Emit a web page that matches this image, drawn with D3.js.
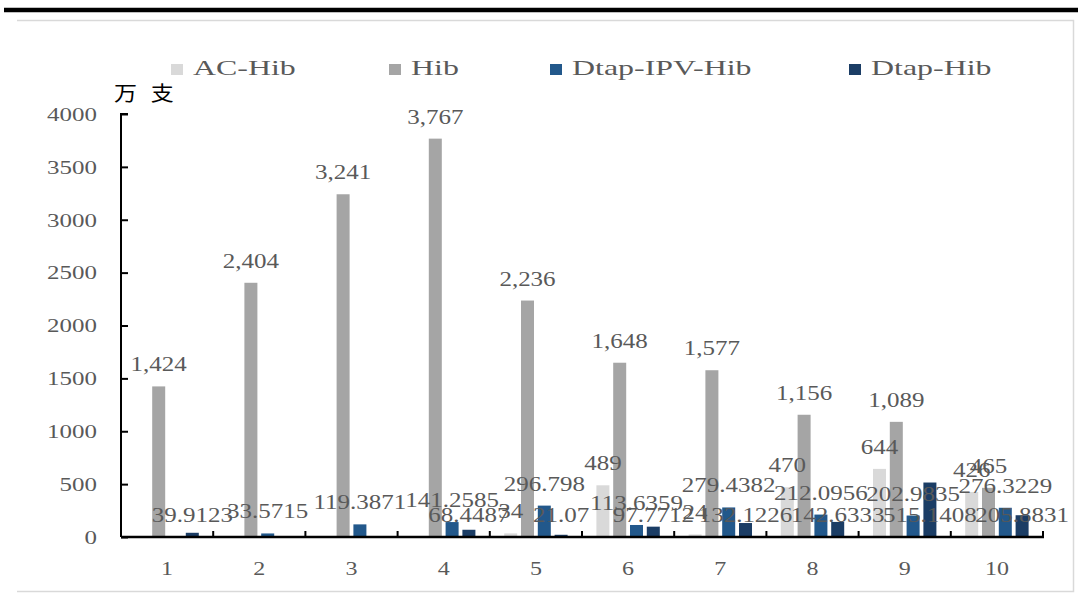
<!DOCTYPE html>
<html>
<head>
<meta charset="utf-8">
<script src="https://cdn.jsdelivr.net/npm/d3@7"></script>
<style>
  html, body { margin: 0; padding: 0; background: #fff; }
  svg { display: block; }
</style>
</head>
<body>
<svg id="chart" width="1078" height="597"></svg>
<script>
// Categories along the x axis
const categories = ["1", "2", "3", "4", "5", "6", "7", "8", "9", "10"];

// Series values (万支); null = no bar for that category
const acHib      = [null, null, null, null, 34, 489, 24, 470, 644, 426];
const hib        = [1424, 2404, 3241, 3767, 2236, 1648, 1577, 1156, 1089, 465];
const dtapIpvHib = [null, 33.5715, 119.3871, 141.2585, 296.798, 113.6359, 279.4382, 212.0956, 202.9835, 276.3229];
const dtapHib    = [39.9123, null, null, 68.4487, 21.07, 97.7712, 132.1226, 142.6333, 515.1408, 205.8831];

const seriesNames = ["AC-Hib", "Hib", "Dtap-IPV-Hib", "Dtap-Hib"];
const yTicks = [0, 500, 1000, 1500, 2000, 2500, 3000, 3500, 4000];
const unitLabel = "万支";

const seriesValues = [acHib, hib, dtapIpvHib, dtapHib];
const colors = ["#d9d9d9", "#a5a5a5", "#22588b", "#1b3d65"];

const svg = d3.select("#chart");
const serif = "'Liberation Serif', 'Times New Roman', serif";
const textGray = "#595959";

// wide serif text: a horizontally stretched glyph run anchored at (x, y)
function wideText(sel, x, y, k) {
  return sel.attr("x", 0).attr("y", 0)
    .attr("transform", (d, i) => `translate(${x(d, i)},${y(d, i)}) scale(${k},1)`);
}

// page frame: heavy rule on top, light open box below it
svg.append("line")
  .attr("x1", 4).attr("x2", 1078).attr("y1", 10).attr("y2", 10)
  .attr("stroke", "#000").attr("stroke-width", 4.5);
svg.append("path")
  .attr("d", "M17,20.5H1073.5V591.5H17")
  .attr("fill", "none").attr("stroke", "#d9d9d9").attr("stroke-width", 1.5);

const plot = { left: 121, right: 1043, top: 114, bottom: 537 };

const x0 = d3.scaleBand().domain(categories).range([plot.left, plot.right]).padding(0);
const x1 = d3.scaleBand().domain(seriesNames).range([0, x0.bandwidth()])
  .paddingInner(0.226).paddingOuter(0.857);
const y = d3.scaleLinear().domain([0, 4000]).range([plot.bottom, plot.top]);

// bars
const rows = [];
seriesNames.forEach((s, si) => {
  categories.forEach((c, ci) => {
    const v = seriesValues[si][ci];
    if (v !== null) rows.push({ s, si, c, v });
  });
});

svg.append("g").selectAll("rect").data(rows).join("rect")
  .attr("x", d => x0(d.c) + x1(d.s))
  .attr("y", d => y(d.v))
  .attr("width", x1.bandwidth())
  .attr("height", d => y(0) - y(d.v))
  .attr("fill", d => colors[d.si]);

// y axis with inward ticks
const yAxis = d3.axisLeft(y).tickValues(yTicks).tickSize(-7)
  .tickFormat(d3.format("d"));
const gy = svg.append("g").attr("transform", `translate(${plot.left},0)`).call(yAxis);
gy.select(".domain").attr("stroke", "#000").attr("stroke-width", 2)
  .attr("d", `M7,${plot.top}H0V${plot.bottom}`);
gy.selectAll(".tick line").attr("stroke", "#000").attr("stroke-width", 2);
gy.selectAll(".tick text")
  .attr("font-family", serif).attr("font-size", 18.5).attr("fill", textGray)
  .attr("dy", "0.34em")
  .call(wideText, () => -24, () => 0, 1.35);

// x axis: baseline with small upward ticks at category boundaries
const gx = svg.append("g");
gx.append("line")
  .attr("x1", plot.left).attr("x2", plot.right + 1)
  .attr("y1", plot.bottom).attr("y2", plot.bottom)
  .attr("stroke", "#000").attr("stroke-width", 2.5);
gx.selectAll("line.b").data(categories).join("line").attr("class", "b")
  .attr("x1", d => x0(d) + x0.bandwidth()).attr("x2", d => x0(d) + x0.bandwidth())
  .attr("y1", plot.bottom).attr("y2", plot.bottom - 6)
  .attr("stroke", "#000").attr("stroke-width", 2);
gx.selectAll("text").data(categories).join("text")
  .attr("text-anchor", "middle")
  .attr("font-family", serif).attr("font-size", 18.5).attr("fill", textGray)
  .call(wideText, d => x0(d) + x0.bandwidth() / 2, () => 575, 1.3)
  .text(d => d);

// unit label
svg.append("text")
  .attr("font-family", "'Noto Sans CJK SC', sans-serif").attr("font-size", 20)
  .attr("letter-spacing", 12)
  .attr("fill", "#000")
  .call(wideText, () => 114, () => 101, 1.15)
  .text(unitLabel);

// value labels: most sit above their bar; Dtap-Hib labels sit on the baseline row
const fmt = d3.format(",");
svg.append("g").selectAll("text").data(rows).join("text")
  .attr("text-anchor", "middle")
  .attr("font-family", serif).attr("font-size", 20).attr("fill", textGray)
  .call(wideText,
    d => x0(d.c) + x1(d.s) + x1.bandwidth() / 2,
    d => (d.si === 3 ? y(0) : y(d.v)) - 22 + 7,
    1.25)
  .text(d => fmt(d.v));

// legend
const legendX = [171, 389, 550, 849];
const lg = svg.append("g").selectAll("g").data(seriesNames).join("g")
  .attr("transform", (d, i) => `translate(${legendX[i]},0)`);
lg.append("rect").attr("x", 0).attr("y", 64).attr("width", 12).attr("height", 11)
  .attr("fill", (d, i) => colors[i]);
lg.append("text")
  .attr("font-family", serif).attr("font-size", 21).attr("fill", textGray)
  .call(wideText, () => 22, () => 75, 1.52)
  .text(d => d);
</script>
</body>
</html>
